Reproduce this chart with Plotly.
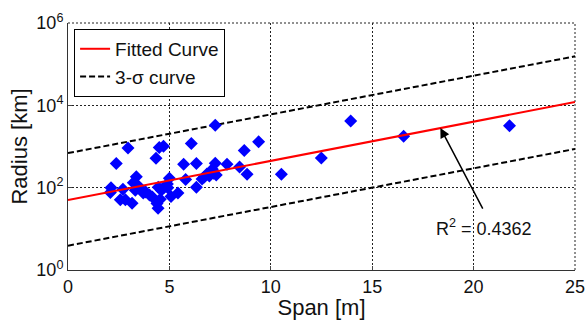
import plotly.graph_objects as go

# Scatter data: span [m] and radius [km]
span = [2.12, 2.09, 2.38, 2.71, 2.96, 2.58, 2.83, 3.16, 3.22, 3.37, 3.32, 3.57, 3.83, 4.02,
        4.34, 4.50, 4.71, 4.45, 4.75, 4.92, 4.39, 4.44, 4.55, 5.00, 4.90, 5.08, 5.42, 5.70,
        5.80, 6.08, 6.33, 6.33, 6.61, 6.85, 7.04, 7.18, 7.26, 7.26, 7.31, 7.84, 8.46, 8.69,
        8.83, 9.40, 10.52, 12.49, 13.94, 16.55, 21.77, 3.47, 3.71, 4.16, 4.60, 6.97, 7.12, 6.72]
radius = [100, 76, 385, 91, 915, 51, 51, 42, 131, 184, 87, 96, 79, 66,
          515, 940, 1020, 103, 103, 100, 41.5, 31.5, 52, 170, 122, 61, 74, 368,
          159, 1190, 385, 102, 163, 214, 246, 223, 390, 3300, 203, 370, 316, 795,
          212, 1300, 212, 525, 4150, 1770, 3170, 110, 74, 59, 87, 191, 282, 181]

# Fitted curve and 3-sigma curves (end points)
line_x = [0, 25]
fit_y = [50, 12000]
upper_y = [690, 155000]
lower_y = [3.9, 870]

x_ticks = [0, 5, 10, 15, 20, 25]
y_ticks = [1, 100, 10000, 1000000]
y_tick_text = ["10<sup>0</sup>", "10<sup>2</sup>", "10<sup>4</sup>", "10<sup>6</sup>"]

FONT = "Liberation Sans, Arial, sans-serif"
DASH = "6px,3px"
GRID = "2px,2px"

fig = go.Figure()
fig.add_trace(go.Scatter(x=line_x, y=upper_y, mode="lines", name="3-σ curve",
                         line=dict(color="black", width=2, dash=DASH), showlegend=False))
fig.add_trace(go.Scatter(x=line_x, y=lower_y, mode="lines", name="3-σ lower",
                         line=dict(color="black", width=2, dash=DASH), showlegend=False))
fig.add_trace(go.Scatter(x=span, y=radius, mode="markers", showlegend=False,
                         marker=dict(symbol="diamond", size=10, color="#0000ff")))
fig.add_trace(go.Scatter(x=line_x, y=fit_y, mode="lines", name="Fitted Curve",
                         line=dict(color="#ff0000", width=2)))
fig.add_trace(go.Scatter(x=[None], y=[None], mode="lines", name="3-σ curve",
                         line=dict(color="black", width=2, dash=DASH)))

# dotted top and right borders (MATLAB grid at the limits)
fig.add_shape(type="line", xref="x domain", yref="y domain", x0=0, x1=1, y0=1, y1=1,
              line=dict(color="#222", width=1, dash=GRID), layer="below")
fig.add_shape(type="line", xref="x domain", yref="y domain", x0=1, x1=1, y0=0, y1=1,
              line=dict(color="#222", width=1, dash=GRID), layer="below")

fig.add_annotation(x=18.36, y=3.45, ax=20.49, ay=1.456, xref="x", yref="y",
                   axref="x", ayref="y", text="", showarrow=True,
                   arrowhead=2, arrowsize=1.3, arrowwidth=1.5, arrowcolor="black")
fig.add_annotation(x=20.53, y=1.04, xref="x", yref="y", text="R<sup>2</sup> = 0.4362",
                   showarrow=False, xanchor="center", yanchor="middle",
                   font=dict(family=FONT, size=18, color="#111"))

fig.update_layout(
    width=585, height=320,
    margin=dict(l=68, r=10, t=23, b=50),
    paper_bgcolor="white", plot_bgcolor="white",
    font=dict(family=FONT, size=18, color="#111"),
    legend=dict(x=0.012, y=0.976, xanchor="left", yanchor="top",
                bgcolor="white", bordercolor="black", borderwidth=1,
                font=dict(size=19), tracegroupgap=0),
)
fig.update_xaxes(range=[0, 25], tickvals=x_ticks, ticks="inside", ticklen=4,
                 showline=True, linecolor="#333", linewidth=1, automargin=False,
                 ticklabeloverflow="allow",
                 showgrid=True, gridcolor="#222", griddash=GRID, gridwidth=1,
                 zeroline=False, tickfont=dict(size=18),
                 title=dict(text="Span [m]", standoff=2))
fig.update_yaxes(type="log", range=[0, 6], tickvals=y_ticks, ticktext=y_tick_text,
                 ticks="inside", ticklen=4, automargin=False,
                 ticklabeloverflow="allow",
                 showline=True, linecolor="#333", linewidth=1,
                 showgrid=True, gridcolor="#222", griddash=GRID, gridwidth=1,
                 zeroline=False, tickfont=dict(size=18),
                 title=dict(text="Radius [km]", standoff=2))

fig.write_html("out.html", config={"displayModeBar": False},
               post_script="document.body.style.margin='0';document.body.style.overflow='hidden';")
